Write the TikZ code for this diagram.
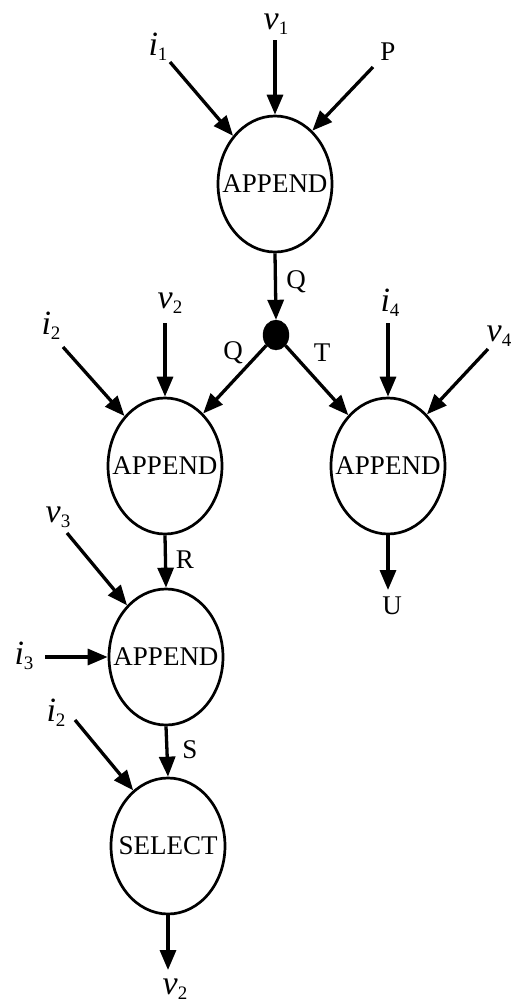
\documentclass[tikz,border=0pt]{standalone}
\usepackage{fontspec}
\setmainfont{Liberation Serif}
\usetikzlibrary{arrows.meta,shapes.geometric}
\newcommand\lab[2]{{\fontsize{34}{38}\selectfont\itshape #1}\raisebox{-5pt}{\fontsize{19}{21}\selectfont #2}}
\begin{document}
\begin{tikzpicture}[x=1pt,y=-1pt,
  every node/.style={font=\fontsize{27}{32}\selectfont, inner sep=0pt},
  ell/.style={draw, ellipse, line width=2.7pt, minimum width=114pt, minimum height=136pt},
  dotnode/.style={draw, fill=black, ellipse, minimum width=26pt, minimum height=30pt},
  arr/.style={line width=3.3pt, -{Triangle[length=20pt,width=16pt]}},
]
\useasboundingbox (0,0) rectangle (516,1005);

% operation nodes
\node[ell, label=center:APPEND] (e1) at (275,184) {};
\node[ell, label=center:APPEND] (e2) at (165,466) {};
\node[ell, label=center:APPEND] (e3) at (388,466) {};
\node[ell, label=center:APPEND] (e4) at (166,657) {};
\node[ell, label=center:SELECT] (e5) at (168,846) {};
\node[dotnode] (dot) at (276,335) {};

% labels
\node (li1) at (158,47) {\lab{i}{1}};
\node (lv1) at (276,24) {\lab{v}{1}};
\node (lP) at (388,52) {P};
\node (lQ1) at (296,282) {Q};
\node (lQ2) at (233,353) {Q};
\node (lT) at (322,353) {T};
\node (li2a) at (51,326) {\lab{i}{2}};
\node (lv2a) at (170,303) {\lab{v}{2}};
\node (li4) at (390,303) {\lab{i}{4}};
\node (lv4) at (499,336) {\lab{v}{4}};
\node (lR) at (185,560) {R};
\node (lv3) at (58,517) {\lab{v}{3}};
\node (li3) at (24,656) {\lab{i}{3}};
\node (li2b) at (56,713) {\lab{i}{2}};
\node (lS) at (190,750) {S};
\node (lU) at (392,606) {U};
\node (lv2b) at (175,989) {\lab{v}{2}};

% free ends
\coordinate (ti1) at (170,62);
\coordinate (tv1) at (275,40);
\coordinate (tP) at (373,67);
\coordinate (ti2a) at (63,347);
\coordinate (tv2a) at (165,323);
\coordinate (ti4) at (388,323);
\coordinate (tv4) at (488,349);
\coordinate (tv3) at (67,533);
\coordinate (ti3) at (45,657);
\coordinate (ti2b) at (75,720);
\coordinate (hU) at (388,590);
\coordinate (hv2) at (168,970);

% connectors
\draw[arr] (ti1) -- (e1.131);
\draw[arr] (tv1) -- (e1.north);
\draw[arr] (tP) -- (e1.55);
\draw[arr] (e1.south) -- (dot.north);
\draw[arr] (dot) -- (e2.54);
\draw[arr] (dot) -- (e3.128);
\draw[arr] (ti2a) -- (e2.129);
\draw[arr] (tv2a) -- (e2.north);
\draw[arr] (ti4) -- (e3.north);
\draw[arr] (tv4) -- (e3.53);
\draw[arr] (e2.south) -- (e4.north);
\draw[arr] (tv3) -- (e4.127);
\draw[arr] (ti3) -- (e4.west);
\draw[arr] (e4.south) -- (e5.north);
\draw[arr] (ti2b) -- (e5.122);
\draw[arr] (e3.south) -- (hU);
\draw[arr] (e5.south) -- (hv2);
\end{tikzpicture}
\end{document}
